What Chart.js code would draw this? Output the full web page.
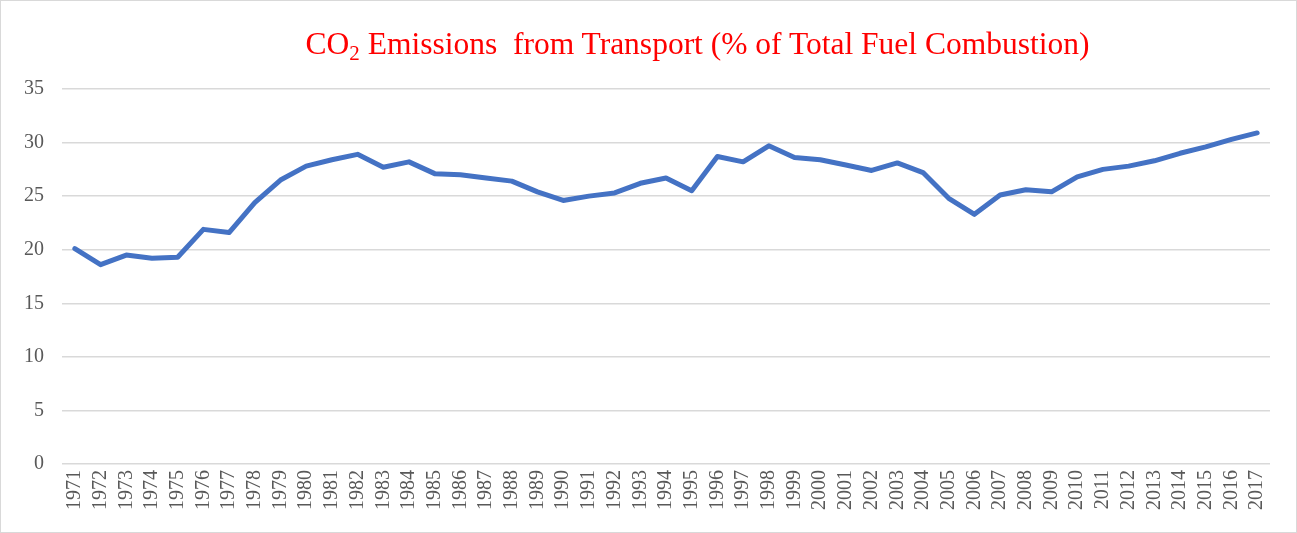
<!DOCTYPE html>
<html>
<head>
<meta charset="utf-8">
<script src="https://cdn.jsdelivr.net/npm/chart.js@4.4.1/dist/chart.umd.min.js"></script>
<style>
  html, body { margin: 0; padding: 0; background: #fff; }
  #wrap { position: relative; width: 1297px; height: 533px; box-sizing: border-box; border: 1px solid #d9d9d9; }
  #title { position: absolute; left: 0; right: 0; top: 25px; text-align: center; font-family: "Liberation Serif", "Times New Roman", serif; font-size: 31.5px; color: #ff0000; white-space: pre; padding-left: 98px; }
  #title sub { font-size: 21px; vertical-align: -6px; line-height: 0; }
  canvas { position: absolute; left: 0; top: 0; }
</style>
</head>
<body>
<div id="wrap">
  <canvas id="c" width="1295" height="531"></canvas>
  <div id="title">CO<sub>2</sub> Emissions  from Transport (% of Total Fuel Combustion)</div>
</div>
<script>
const years = ["1971","1972","1973","1974","1975","1976","1977","1978","1979","1980","1981","1982","1983","1984","1985","1986","1987","1988","1989","1990","1991","1992","1993","1994","1995","1996","1997","1998","1999","2000","2001","2002","2003","2004","2005","2006","2007","2008","2009","2010","2011","2012","2013","2014","2015","2016","2017"];
const transportShare = [20.1,18.6,19.5,19.2,19.3,21.9,21.6,24.4,26.5,27.8,28.4,28.9,27.7,28.2,27.1,27.0,26.7,26.4,25.4,24.6,25.0,25.3,26.2,26.7,25.5,28.7,28.2,29.7,28.6,28.4,27.9,27.4,28.1,27.2,24.8,23.3,25.1,25.6,25.4,26.8,27.5,27.8,28.3,29.0,29.6,30.3,30.9];
const yTicks = [0,5,10,15,20,25,30,35];

new Chart(document.getElementById('c'), {
  type: 'line',
  data: {
    labels: years,
    datasets: [{
      data: transportShare,
      borderColor: '#4472c4',
      borderWidth: 5,
      pointRadius: 0,
      tension: 0,
      borderJoinStyle: 'round',
      borderCapStyle: 'round'
    }]
  },
  options: {
    responsive: false,
    animation: false,
    plugins: { legend: { display: false }, tooltip: { enabled: false } },
    layout: { padding: { left: 5, right: 26, top: 88, bottom: 16 } },
    scales: {
      x: {
        offset: true,
        grid: { display: false, drawTicks: false },
        border: { display: false },
        ticks: {
          autoSkip: false, minRotation: 90, maxRotation: 90, padding: 6,
          color: '#595959', font: { family: '"Liberation Serif", serif', size: 20 }
        }
      },
      y: {
        min: 0, max: 35,
        afterBuildTicks: (s) => { s.ticks = yTicks.map(v => ({ value: v })); },
        grid: { color: '#d9d9d9', lineWidth: 1.5, drawTicks: false },
        border: { display: false },
        ticks: {
          padding: 18, color: '#595959',
          font: { family: '"Liberation Serif", serif', size: 20 }
        }
      }
    }
  }
});
</script>
</body>
</html>
